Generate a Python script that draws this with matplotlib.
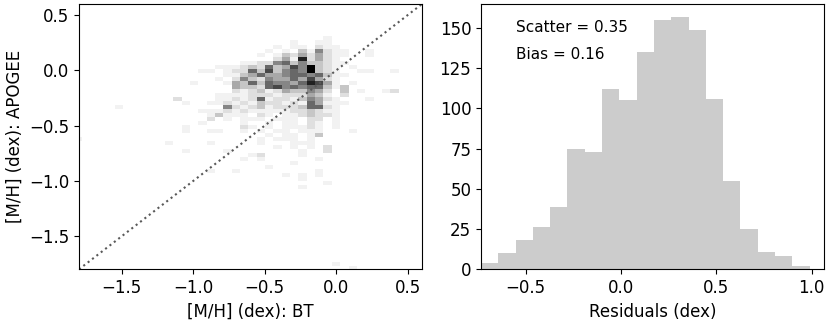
import numpy as np
import matplotlib
matplotlib.use("Agg")
import matplotlib.pyplot as plt

# ---------------- data ----------------
# Right panel: histogram of residuals
resid_counts = [4, 10, 18, 26, 39, 75, 73, 112, 105, 135, 155, 157, 149, 106, 55, 25, 11, 8, 2]
resid_first_edge = -0.7345
resid_bin_width = 0.0907
scatter_value = 0.35
bias_value = 0.16

# Left panel: 2D histogram counts, [M/H] BT (x) vs [M/H] APOGEE (y)
# each string = one row of cells (top to bottom), each char = count in a cell (left to right)
grid_rows = [
    "00000000000000" + "00000100000000",
    "00000000000000" + "01001100000000",
    "00000000000001" + "01102110000000",
    "00000000000010" + "10315211001000",
    "00000000000101" + "32424211001000",
    "00000000000002" + "41824210000000",
    "00000000011225" + "63533211000000",
    "00000011123263" + "47593210100000",
    "00001101226373" + "56593210011001",
    "00000001134644" + "56656311000000",
    "00000010253254" + "46474210000000",
    "00010001436365" + "54687410100000",
    "00000000433267" + "56566313000000",
    "00000000212312" + "43354203010012",
    "00000011112221" + "22243102000000",
    "02000011212612" + "21354210001000",
    "00100112121322" + "12164111000000",
    "00000005212312" + "22366210000000",
    "00001112121111" + "12232110000000",
    "00000131110210" + "11232210000000",
    "00000201011101" + "11022010000000",
    "00001000010010" + "11021010000000",
    "00100000021010" + "11121010000000",
    "00100110010101" + "10111000100000",
    "00000000000010" + "11013000000000",
    "00000000000101" + "11010000000000",
    "10000100000100" + "01110000000000",
    "00000000000001" + "01010200000000",
    "00100001000000" + "00100200000000",
    "00000000001200" + "00100000000000",
    "00000000010100" + "00001000000000",
    "00000000000000" + "01000000000000",
    "00000000000010" + "00000000000000",
    "00000100100000" + "00001000000000",
    "00000000000000" + "10101000000000",
    "00000000000000" + "00100000000000",
    "00000000000000" + "00000100000000",
    "00000000000000" + "00100000000000",
]
grid_first_col = -14
grid_first_row = -8
extra_col = [-20, -25, 6, 8]
extra_row = [9, 17, 48, 49]
extra_count = [1, 1, 1, 1]

# cell geometry
cell_dx = 0.05834
cell_dy = 0.03636
x_origin = -0.3810   # left edge of column 0
y_origin = 0.01545   # top edge of row 0

# ---------------- build ----------------
xs, ys, ws = [], [], []
for r, s in enumerate(grid_rows):
    for p, ch in enumerate(s):
        n = int(ch)
        if n:
            c = grid_first_col + p
            j = grid_first_row + r
            xs.append(x_origin + (c + 0.5) * cell_dx)
            ys.append(y_origin - (j + 0.5) * cell_dy)
            ws.append(n)
for c, j, n in zip(extra_col, extra_row, extra_count):
    xs.append(x_origin + (c + 0.5) * cell_dx)
    ys.append(y_origin - (j + 0.5) * cell_dy)
    ws.append(n)

x_edges = x_origin + cell_dx * np.arange(-27, 19)
y_edges = np.sort(y_origin - cell_dy * np.arange(-18, 53))

plt.rcParams["font.size"] = 12
fig = plt.figure(figsize=(8.3, 3.23), dpi=100)
W, H = 830, 323
ax1 = fig.add_axes([79 / W, 1 - 269.3 / H, (422 - 79) / W, (269.3 - 4) / H])
ax2 = fig.add_axes([481 / W, 1 - 269.3 / H, (824 - 481) / W, (269.3 - 4) / H])

ax1.hist2d(xs, ys, bins=[x_edges, y_edges], weights=ws, cmap="Greys", vmin=0, vmax=9)
lim = (-1.8, 0.6)
ax1.plot(lim, lim, ls=":", color="0.35", lw=1.5)
ax1.set_xlim(lim)
ax1.set_ylim(lim)
ax1.set_xticks([-1.5, -1.0, -0.5, 0.0, 0.5])
ax1.set_yticks([-1.5, -1.0, -0.5, 0.0, 0.5])
ax1.set_xlabel("[M/H] (dex): BT")
ax1.set_ylabel("[M/H] (dex): APOGEE")

edges = resid_first_edge + resid_bin_width * np.arange(len(resid_counts) + 1)
centers = 0.5 * (edges[:-1] + edges[1:])
ax2.hist(centers, bins=edges, weights=resid_counts, color="grey", alpha=0.4)
ax2.set_xlim(resid_first_edge, 1.0645)
ax2.set_xticks([-0.5, 0.0, 0.5, 1.0])
ax2.set_yticks([0, 25, 50, 75, 100, 125, 150])
ax2.set_xlabel("Residuals (dex)")
ax2.text(0.101, 0.894, f"Scatter = {scatter_value:.2f}", transform=ax2.transAxes,
         fontsize=11, va="baseline", ha="left")
ax2.text(0.101, 0.793, f"Bias = {bias_value:.2f}", transform=ax2.transAxes,
         fontsize=11, va="baseline", ha="left")

fig.savefig("out.png", dpi=100)
